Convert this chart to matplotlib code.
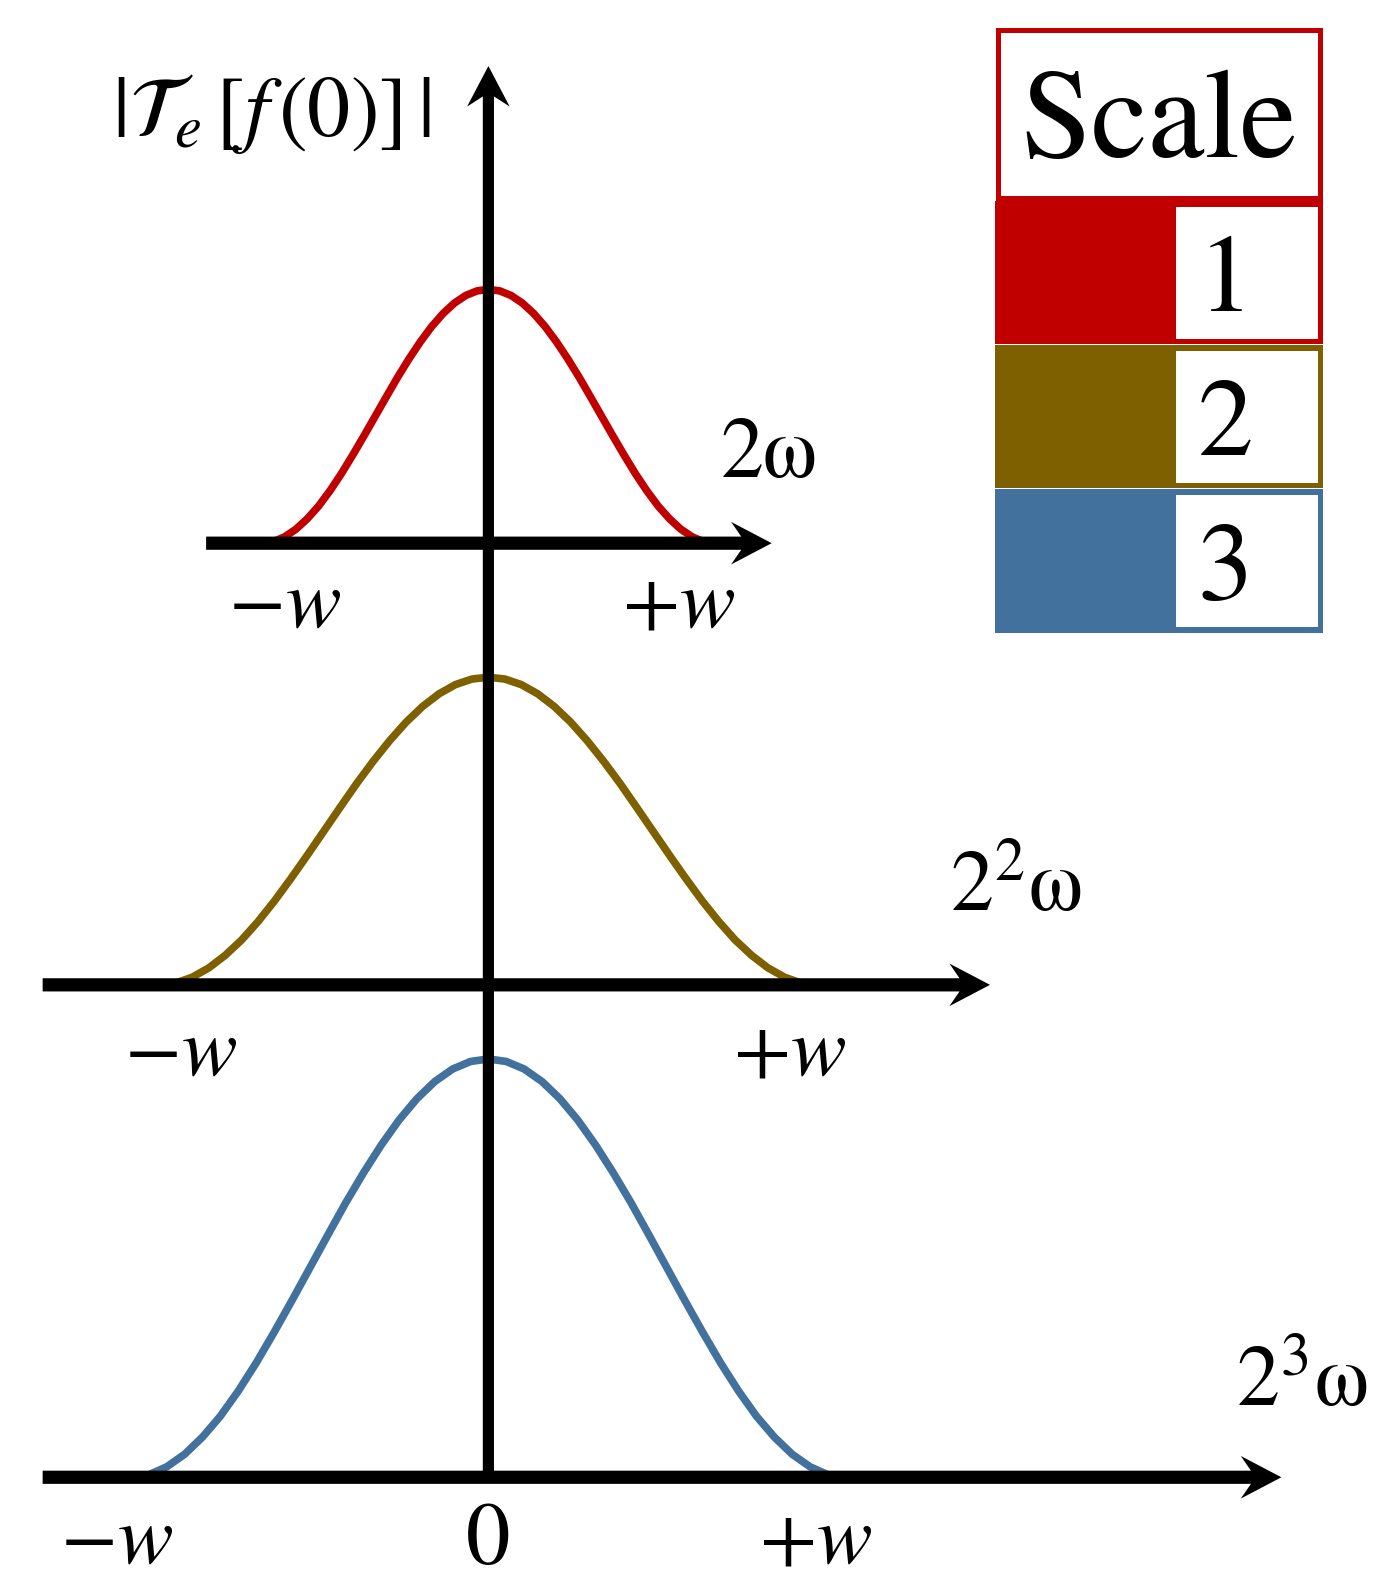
import numpy as np
import matplotlib.pyplot as plt
from matplotlib.patches import Rectangle

plt.rcParams['font.family'] = 'STIXGeneral'
plt.rcParams['mathtext.fontset'] = 'stix'

# scales and their colours
scales = ['1', '2', '3']
colors = ['#C00000', '#7F6000', '#41719C']
freq_labels = ['2ω', '$2^2$ω', '$2^3$ω']

# picture coordinates (pixels of a 1366 x 1568 canvas)
center_x = 481
axis_y = [535, 970, 1455]
axis_x0 = [203, 42, 42]
axis_x1 = [760, 975, 1262]
peak_y = [285, 667, 1043]
half_width = [223, 324, 352]

# normalised bell profile (offset 0 -> 1 of half width)
profile_off = [0.0, 0.05, 0.1, 0.15, 0.2, 0.25, 0.3, 0.35, 0.4, 0.45, 0.5,
               0.55, 0.6, 0.65, 0.7, 0.75, 0.8, 0.85, 0.9, 0.95, 1.0]
profile_val = [1.0, 0.994, 0.976, 0.946, 0.905, 0.854, 0.794, 0.727, 0.655,
               0.578, 0.5, 0.422, 0.346, 0.273, 0.206, 0.146, 0.096, 0.055,
               0.025, 0.006, 0.0]

# label positions
minus_x = [280, 178, 115]
plus_x = [668, 778, 803]
tick_y = [598, 1040, 1520]
freq_x = [757, 1000, 1282]
freq_y = [450, 878, 1365]

fig = plt.figure(figsize=(13.87, 15.92), dpi=100)
ax = fig.add_axes([0, 0, 1, 1])
ax.set_xlim(0, 1366)
ax.set_ylim(1568, 0)
ax.axis('off')

off = np.array(profile_off)
val = np.array(profile_val)
xs_n = np.concatenate([-off[::-1], off[1:]])
ys_n = np.concatenate([val[::-1], val[1:]])

for i in range(3):
    xs = center_x + xs_n * half_width[i]
    ys = axis_y[i] - ys_n * (axis_y[i] - peak_y[i])
    ax.plot(xs, ys, color=colors[i], lw=5.5, solid_capstyle='round',
            solid_joinstyle='round', zorder=2)
    ax.arrow(axis_x0[i], axis_y[i], axis_x1[i] - axis_x0[i], 0, width=13,
             head_width=42, head_length=40, length_includes_head=True,
             overhang=0.25, fc='k', ec='none', zorder=3)
    ax.text(minus_x[i], tick_y[i], r'$-w$', fontsize=60, ha='center', va='center')
    ax.text(plus_x[i], tick_y[i], r'$+w$', fontsize=60, ha='center', va='center')
    ax.text(freq_x[i], freq_y[i], freq_labels[i], fontsize=62, ha='center', va='center')

# vertical axis
ax.arrow(center_x, axis_y[2], 0, 65 - axis_y[2], width=11, head_width=42,
         head_length=40, length_includes_head=True, overhang=0.25,
         fc='k', ec='none', zorder=4)
ax.text(center_x, tick_y[2], '0', fontsize=64, ha='center', va='center')
ax.text(267, 112, r'$|\mathcal{T}_e\,[f\,(0)]\,|$', fontsize=62,
        ha='center', va='center')

# legend
leg_x0, leg_x1 = 980, 1303
ax.add_patch(Rectangle((leg_x0 + 2.5, 29.5), leg_x1 - leg_x0 - 5, 166,
                       fc='white', ec=colors[0], lw=3.6, zorder=2))
ax.text(1141, 125, 'Scale', fontsize=92, ha='center', va='center')
row_top = [198, 340, 482]
row_h = 141
for i in range(3):
    ax.add_patch(Rectangle((leg_x0, row_top[i]), leg_x1 - leg_x0, row_h,
                           fc=colors[i], ec='none', zorder=2))
    ax.add_patch(Rectangle((1158, row_top[i] + 6), 140, row_h - 11,
                           fc='white', ec='none', zorder=3))
    ax.text(1207, row_top[i] + row_h / 2 + 12, scales[i], fontsize=80,
            ha='center', va='center', zorder=4)

plt.savefig('out.png', dpi=100)
